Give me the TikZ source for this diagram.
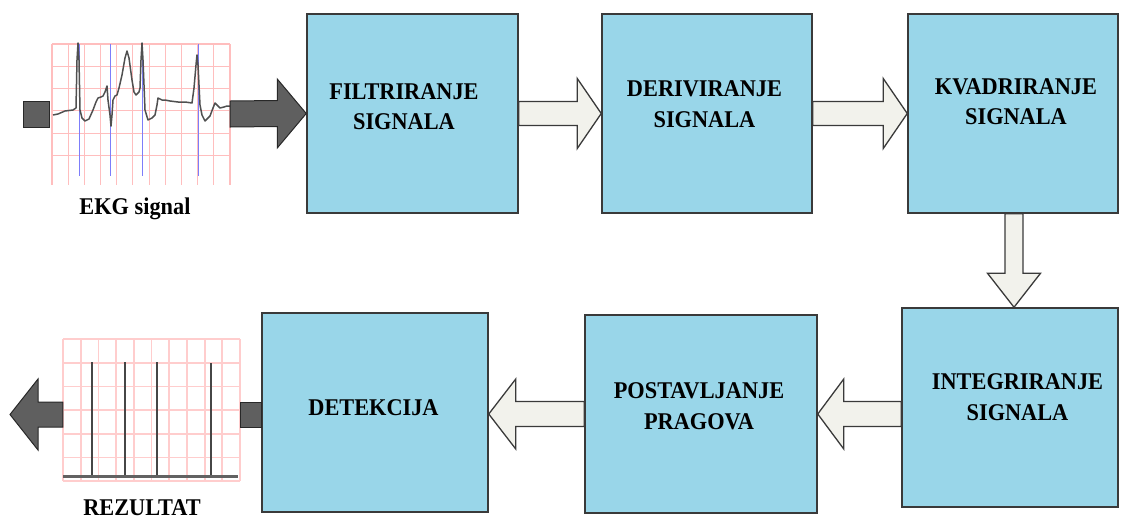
\documentclass[tikz,border=0pt]{standalone}
\usepackage{fontspec}
\setmainfont{Liberation Serif}[FakeStretch=0.93]
\usetikzlibrary{calc}
\definecolor{boxblue}{RGB}{153,214,233}
\definecolor{boxline}{RGB}{58,58,58}
\definecolor{arrlight}{RGB}{242,242,236}
\definecolor{arrdark}{RGB}{95,95,95}
\definecolor{arrdarkline}{RGB}{40,40,40}
\definecolor{gridpink}{RGB}{255,190,190}
\definecolor{gridpinkb}{RGB}{255,205,205}
\definecolor{gridblue}{RGB}{125,125,250}
\definecolor{tracecol}{RGB}{80,80,80}
\definecolor{spikecol}{RGB}{70,70,70}
\begin{document}
\begin{tikzpicture}[x=1pt,y=-1pt,
  stage/.style={draw=boxline, line width=1.5pt, fill=boxblue, minimum width=#1, minimum height=199pt, inner sep=0pt},
  lbl/.style={font=\bfseries\fontsize{24}{30.5}\selectfont, align=center, inner sep=0pt, text=black},
  lightarr/.style={draw=boxline, fill=arrlight, line width=1.3pt, line join=miter},
  darkarr/.style={draw=arrdarkline, fill=arrdark, line width=1pt, line join=miter},
  gridframe/.style={inner sep=0pt, minimum width=#1},
  pinkline/.style={draw=gridpink, line width=1.1pt},
  pinklineb/.style={draw=gridpinkb, line width=1.8pt},
  blueline/.style={draw=gridblue, line width=1pt},
  spike/.style={draw=spikecol, line width=2.4pt}
]
\useasboundingbox (0,0) rectangle (1121,520);

% ---- process boxes ----
\node[stage=211pt] (f) at (412.5,113.5) {};
\node[stage=210pt] (d) at (707,113.5) {};
\node[stage=210pt] (k) at (1013,113.5) {};
\node[stage=216pt] (i) at (1010,407.5) {};
\node[stage=232pt, minimum height=198pt] (p) at (701,414) {};
\node[stage=226pt] (dt) at (375,412.5) {};

\node[lbl] (fl) at ($(f.center)+(-8.5,-7)$) {FILTRIRANJE\\SIGNALA};
\node[lbl] (dl) at ($(d.center)+(-2.5,-9.5)$) {DERIVIRANJE\\SIGNALA};
\node[lbl] (kl) at ($(k.center)+(3,-12)$) {KVADRIRANJE\\SIGNALA};
\node[lbl] (il) at ($(i.center)+(7.5,-10.5)$) {INTEGRIRANJE\\SIGNALA};
\node[lbl] (pl) at ($(p.center)+(-2,-8)$) {POSTAVLJANJE\\PRAGOVA};
\node[lbl] (dtl) at ($(dt.center)+(-1.5,-4.5)$) {DETEKCIJA};

% ---- EKG input picture ----
\node[gridframe=178pt, minimum height=142pt] (ekg) at (141,114) {};
\foreach \n in {0,...,11}
  \draw[pinkline] ({52+\n*16.18},44) -- ({52+\n*16.18},185);
\foreach \n in {0,...,5}
  \draw[pinkline] (52,{44+\n*22.3}) -- (230,{44+\n*22.3});
\foreach \x in {79,110,142,198}
  \draw[blueline] (\x,44) -- (\x,176);
\draw[tracecol, line width=1.5pt, line join=round] plot coordinates {
 (53,115) (58,114) (65,111) (73,110) (76,108) (77,60) (78,43) (79,60) (80,110)
 (82,118) (85,121) (89,119) (93,110) (96,102) (98,98) (101,97) (103,96) (105,92)
 (107,86) (108,100) (110,115) (111,126) (112,115) (113,100) (115,96) (117,95)
 (119,88) (122,75) (125,58) (127,51) (129,58) (132,80) (134,92) (136,95) (139,92)
 (140,88) (141,60) (142,43) (143,60) (145,110) (148,120) (152,118) (155,115)
 (157,105) (158,98) (162,100) (165,100) (170,101) (178,102) (185,102) (192,103)
 (194,88) (196,65) (197,55) (198,65) (200,105) (202,115) (205,121) (208,118)
 (210,116) (213,108) (215,103) (218,106) (220,108) (224,107) (227,106) (231,106)};
\node[lbl, anchor=base] (ekgt) at (135,214) {EKG signal};

% ---- result picture ----
\node[gridframe=177pt, minimum height=142pt] (res) at (151.5,410) {};
\foreach \n in {0,...,10}
  \draw[pinklineb] ({63+\n*17.7},339) -- ({63+\n*17.7},481);
\foreach \n in {0,...,6}
  \draw[pinklineb] (63,{339+\n*23.7}) -- (240,{339+\n*23.7});
\foreach \x/\t in {92/362,125/362,157/362,211/363}
  \draw[spike] (\x,\t) -- (\x,476);
\draw[draw=spikecol!85, line width=3pt] (63,476) -- (238,476);
\node[lbl, anchor=base] (rest) at (142,515.5) {REZULTAT};

% ---- input / output connectors ----
\coordinate (in) at (23,114);
\draw[darkarr] ($(in)+(0,-13)$) rectangle ($(ekg.west)+(-2,13)$);
\draw[darkarr] ($(ekg.east)+(0,-13)$) -- ($(f.west)+(-29,-13)$) -- ($(f.west)+(-29,-34.5)$)
  -- (f.west) -- ($(f.west)+(-29,34.5)$) -- ($(f.west)+(-29,13)$) -- ($(ekg.east)+(0,13)$) -- cycle;

\coordinate (r) at ($(dt.west)+(0,2)$);
\coordinate (out) at (10,414.5);
\draw[darkarr] ($(res.east |- r)+(0,-12.5)$) rectangle ($(r)+(0,12.5)$);
\draw[darkarr] ($(res.west |- r)+(0,-12.5)$) -- ($(out)+(28,-12.5)$) -- ($(out)+(28,-35.5)$)
  -- (out) -- ($(out)+(28,35.5)$) -- ($(out)+(28,12.5)$) -- ($(res.west |- r)+(0,12.5)$) -- cycle;

% ---- process arrows ----
\draw[lightarr] ($(f.east)+(0,-12)$) -- ($(d.west)+(-24,-12)$) -- ($(d.west)+(-24,-35)$)
  -- (d.west) -- ($(d.west)+(-24,35)$) -- ($(d.west)+(-24,12)$) -- ($(f.east)+(0,12)$) -- cycle;
\draw[lightarr] ($(d.east)+(0,-12)$) -- ($(k.west)+(-24,-12)$) -- ($(k.west)+(-24,-35)$)
  -- (k.west) -- ($(k.west)+(-24,35)$) -- ($(k.west)+(-24,12)$) -- ($(d.east)+(0,12)$) -- cycle;

\coordinate (kt) at ($(k.south)+(1,0)$);
\coordinate (it) at (kt |- i.north);
\draw[lightarr] ($(kt)+(-9,0)$) -- ($(it)+(-9,-34)$) -- ($(it)+(-26.5,-34)$)
  -- (it) -- ($(it)+(26.5,-34)$) -- ($(it)+(9,-34)$) -- ($(kt)+(9,0)$) -- cycle;

\draw[lightarr] ($(i.west |- p.east)+(0,-12.5)$) -- ($(p.east)+(26,-12.5)$) -- ($(p.east)+(26,-35)$)
  -- (p.east) -- ($(p.east)+(26,35)$) -- ($(p.east)+(26,12.5)$) -- ($(i.west |- p.east)+(0,12.5)$) -- cycle;

\coordinate (pt) at (p.west -| dt.east);
\draw[lightarr] ($(p.west)+(0,-12.5)$) -- ($(pt)+(27,-12.5)$) -- ($(pt)+(27,-35)$)
  -- (pt) -- ($(pt)+(27,35)$) -- ($(pt)+(27,12.5)$) -- ($(p.west)+(0,12.5)$) -- cycle;
\end{tikzpicture}
\end{document}
